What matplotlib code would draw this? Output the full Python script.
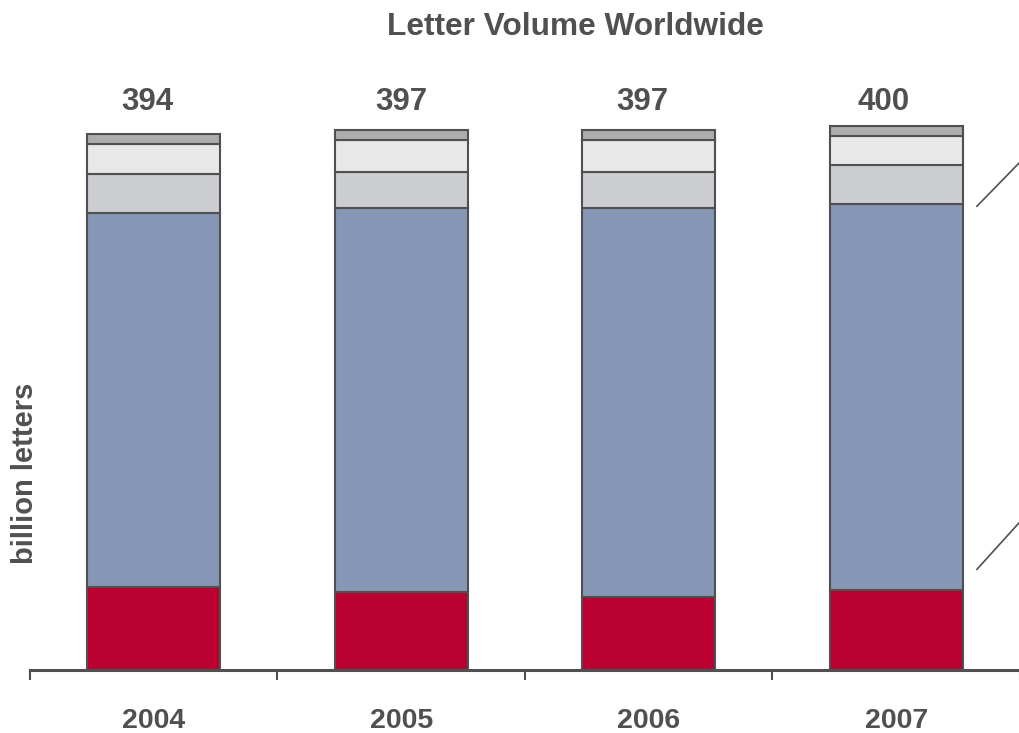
import numpy as np
import matplotlib
matplotlib.use("Agg")
import matplotlib.pyplot as plt
import matplotlib.transforms as mtransforms
from matplotlib import font_manager

# letter volume by segment, billion letters
years = ["2004", "2005", "2006", "2007"]
red_seg = [61, 57, 54, 59]
blue_seg = [275, 283, 286, 284]
gray_seg = [29, 26, 26, 28]
light_seg = [22, 24, 24, 22]
top_seg = [7, 7, 7, 7]
totals = [394, 397, 397, 400]

seg_colors = ["#BA0030", "#8597B4", "#CBCDD0", "#E8E8E8", "#ADADAD"]
edge = "#505050"
text_col = "#505050"

plt.rcParams['font.family'] = ['Liberation Sans', 'DejaVu Sans']

# narrow face for the year labels if one is around
names = {f.name for f in font_manager.fontManager.ttflist}
if "Liberation Sans Narrow" in names:
    year_family, year_size = ["Liberation Sans Narrow"], 23
else:
    year_family, year_size = ["Liberation Sans"], 20.5

fig = plt.figure(figsize=(10.2, 7.33), dpi=100)
W, H = 1020, 733
ax = fig.add_axes([30 / W, (H - 670) / H, 990 / W, 610 / H])

x = np.arange(len(years))
bottom = np.zeros(len(years))
for vals, col in zip([red_seg, blue_seg, gray_seg, light_seg, top_seg], seg_colors):
    ax.bar(x, vals, width=0.537, bottom=bottom, color=col, edgecolor=edge,
           linewidth=1.5, zorder=2)
    bottom += np.array(vals)

ax.set_xlim(-0.5, 3.5)
ax.set_ylim(0, 610 / 1.36)

for s in ["top", "right", "left"]:
    ax.spines[s].set_visible(False)
ax.spines["bottom"].set_color(edge)
ax.spines["bottom"].set_linewidth(2.2)
ax.spines["bottom"].set_zorder(3)
ax.set_yticks([])
ax.set_xticks(np.arange(-0.5, 3.6, 1.0))
ax.set_xticklabels([])
ax.tick_params(axis="x", direction="out", length=7, width=1.5, color=edge)

# year labels under bars, value labels above
blend = mtransforms.blended_transform_factory(ax.transData, fig.transFigure)
offsets = [-6, 0, -6, -13]
for i, (yr, tot) in enumerate(zip(years, totals)):
    ax.text(i, (H - 728) / H, yr, transform=blend, ha="center", va="baseline",
            fontsize=year_size, fontweight="bold", color=text_col, family=year_family)
    off = mtransforms.offset_copy(blend, fig=fig, x=offsets[i], y=0, units="dots")
    ax.text(i, (H - 110) / H, str(tot), transform=off, ha="center", va="baseline",
            fontsize=22.5, fontweight="bold", color=text_col)

# connector strokes toward the next panel
conn_x = [3.326, 3.5]
for ys in ([341, 373.5], [74, 109]):
    ax.plot(conn_x, ys, color=edge, linewidth=1.2, clip_on=False, zorder=2)

fig.text(575 / W, (H - 35) / H, "Letter Volume Worldwide", ha="center", va="baseline",
         fontsize=22.8, fontweight="bold", color=text_col)
fig.text(33 / W, (H - 473) / H, "billion letters", rotation=90, rotation_mode="anchor",
         ha="center", va="baseline", fontsize=21, fontweight="bold", color=text_col)

fig.savefig("out.png", dpi=100)
